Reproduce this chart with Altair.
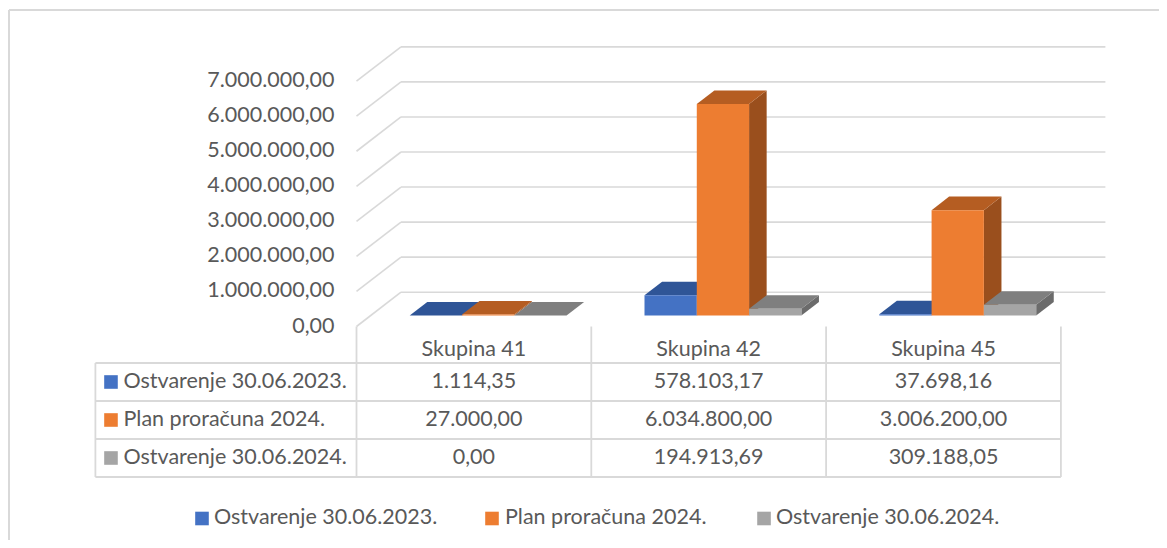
import altair as alt
import pandas as pd

# ---------------- data ----------------
categories = ["Skupina 41", "Skupina 42", "Skupina 45"]
series = ["Ostvarenje 30.06.2023.", "Plan proračuna 2024.", "Ostvarenje 30.06.2024."]
ostv_2023 = [1114.35, 578103.17, 37698.16]
plan_2024 = [27000.00, 6034800.00, 3006200.00]
ostv_2024 = [0.00, 194913.69, 309188.05]
y_ticks = [0, 1000000, 2000000, 3000000, 4000000, 5000000, 6000000, 7000000]

front_colors = ["#4472C4", "#ED7D31", "#A5A5A5"]
top_colors = ["#2F5597", "#B55D22", "#7F7F7F"]
side_colors = ["#264478", "#9A4F1D", "#6B6B6B"]

values = [ostv_2023, plan_2024, ostv_2024]


def fmt(v):
    s = f"{v:,.2f}"
    return s.replace(",", "X").replace(".", ",").replace("X", ".")


# ---------------- geometry / style ----------------
W, H = 1151, 532
FONT = "Lato"
FS = 21.5
TXT = "#595959"
GRID = "#D9D9D9"
X_DOMAIN = [-1.4842, 3.4178]      # category units (front plane)
Y_DOMAIN = [-6.091e6, 9.087e6]    # value units (front plane)
R_DOMAIN = [-8.342, 5.658]        # table row units (reversed)
DX = 0.1895                       # full depth shift, x
DY = 0.9786e6                     # full depth shift, y
Z0, Z1 = 0.32, 0.715              # bar depth span
BW = 0.2227                       # bar width
TABLE_LEFT = -1.112
LEGEND_ROW = 5.092
LEGEND_SYM_X = [-0.658, 0.5771, 1.7356]
LEGEND_TXT_X = [-0.6069, 0.6325, 1.7867]

xs = alt.Scale(domain=X_DOMAIN, nice=False, zero=False)
ys = alt.Scale(domain=Y_DOMAIN, nice=False, zero=False)
rs = alt.Scale(domain=R_DOMAIN, nice=False, zero=False, reverse=True)
cs = alt.Scale(domain=series, range=front_colors)


def X(f):
    return alt.X(f, type="quantitative", scale=xs, axis=None)


def Yv(f):
    return alt.Y(f, type="quantitative", scale=ys, axis=None)


def Yr(f):
    return alt.Y(f, type="quantitative", scale=rs, axis=None)


layers = []

# outer frame (left + top)
frame = pd.DataFrame([
    {"x": -1.48, "y": R_DOMAIN[0] + 0.053, "x2": -1.48, "y2": R_DOMAIN[1]},
    {"x": -1.48, "y": R_DOMAIN[0] + 0.053, "x2": X_DOMAIN[1], "y2": R_DOMAIN[0] + 0.053},
])
layers.append(alt.Chart(frame).mark_rule(color=GRID, strokeWidth=2).encode(
    x=X("x"), x2="x2", y=Yr("y"), y2="y2"))

# gridlines: back wall + left side wall
grid_rows = []
for v in y_ticks:
    grid_rows.append({"x": DX, "x2": 3 + DX, "y": v + DY, "y2": v + DY})
    grid_rows.append({"x": 0, "x2": DX, "y": v, "y2": v + DY})
layers.append(alt.Chart(pd.DataFrame(grid_rows)).mark_rule(color=GRID, strokeWidth=1.6).encode(
    x=X("x"), x2="x2", y=Yv("y"), y2="y2"))

# y labels
ylab = pd.DataFrame({"v": y_ticks, "t": [fmt(v) for v in y_ticks], "x": [0] * len(y_ticks)})
layers.append(alt.Chart(ylab).mark_text(align="right", baseline="middle", dx=-22,
                                        font=FONT, fontSize=FS, color=TXT).encode(
    x=X("x"), y=Yv("v"), text="t:N"))

# bars (right side face, top face, front face)
for j, s in enumerate(series):
    side, top, front = [], [], []
    for i, c in enumerate(categories):
        v = values[j][i]
        bl = i + 0.5 - 1.5 * BW + j * BW
        br = bl + BW
        front.append({"cat": c, "series": s, "x": bl + Z0 * DX, "x2": br + Z0 * DX,
                      "y": Z0 * DY, "y2": v + Z0 * DY})
        top.append({"cat": c, "y": v + Z0 * DY, "x": bl + Z0 * DX, "x2": br + Z0 * DX})
        top.append({"cat": c, "y": v + Z1 * DY, "x": bl + Z1 * DX, "x2": br + Z1 * DX})
        side.append({"cat": c, "x": br + Z0 * DX, "y": Z0 * DY, "y2": v + Z0 * DY})
        side.append({"cat": c, "x": br + Z1 * DX, "y": Z1 * DY, "y2": v + Z1 * DY})
    layers.append(alt.Chart(pd.DataFrame(side)).mark_area(
        color=side_colors[j], orient="vertical", interpolate="linear").encode(
        x=X("x"), y=Yv("y"), y2="y2", detail="cat:N"))
    layers.append(alt.Chart(pd.DataFrame(top)).mark_area(
        color=top_colors[j], orient="horizontal", interpolate="linear").encode(
        y=Yv("y"), x=X("x"), x2="x2", detail="cat:N"))
    layers.append(alt.Chart(pd.DataFrame(front)).mark_rect().encode(
        x=X("x"), x2="x2", y=Yv("y"), y2="y2",
        color=alt.Color("series:N", scale=cs, legend=None)))

# table lines
tl = []
for r in [1, 2, 3, 4]:
    tl.append({"x": TABLE_LEFT, "x2": 3, "y": r, "y2": r})
tl.append({"x": TABLE_LEFT, "x2": TABLE_LEFT, "y": 1, "y2": 4})
for u in [0, 1, 2, 3]:
    tl.append({"x": u, "x2": u, "y": 0.04, "y2": 4})
layers.append(alt.Chart(pd.DataFrame(tl)).mark_rule(color=GRID, strokeWidth=1.8).encode(
    x=X("x"), x2="x2", y=Yr("y"), y2="y2"))

# table header
hdr = pd.DataFrame({"x": [i + 0.5 for i in range(3)], "r": [0.65] * 3, "t": categories})
layers.append(alt.Chart(hdr).mark_text(align="center", baseline="middle",
                                       font=FONT, fontSize=FS, color=TXT).encode(
    x=X("x"), y=Yr("r"), text="t:N"))

# table cells
cells = []
for j in range(3):
    for i in range(3):
        cells.append({"x": i + 0.5, "r": j + 1.5, "t": fmt(values[j][i])})
layers.append(alt.Chart(pd.DataFrame(cells)).mark_text(align="center", baseline="middle",
                                                       font=FONT, fontSize=FS, color=TXT).encode(
    x=X("x"), y=Yr("r"), text="t:N"))

# row labels + markers (table) and bottom legend
rl = pd.DataFrame({"x": [TABLE_LEFT + 0.1197] * 3, "xm": [TABLE_LEFT + 0.0664] * 3,
                   "r": [1.5, 2.5, 3.5], "t": series})
lg = pd.DataFrame({"x": LEGEND_TXT_X, "xm": LEGEND_SYM_X, "r": [LEGEND_ROW] * 3, "t": series})
for d in (rl, lg):
    layers.append(alt.Chart(d).mark_text(align="left", baseline="middle",
                                         font=FONT, fontSize=FS, color=TXT).encode(
        x=X("x"), y=Yr("r"), text="t:N"))
    layers.append(alt.Chart(d).mark_square(size=185, opacity=1).encode(
        x=X("xm"), y=Yr("r"), color=alt.Color("t:N", scale=cs, legend=None)))

chart = alt.layer(*layers).resolve_scale(y="independent").properties(
    width=W, height=H, padding=0, autosize=alt.AutoSizeParams(type="none"),
    background="white"
).configure_view(stroke=None)

chart.save("out.html", embed_options={"renderer": "svg", "actions": False})
